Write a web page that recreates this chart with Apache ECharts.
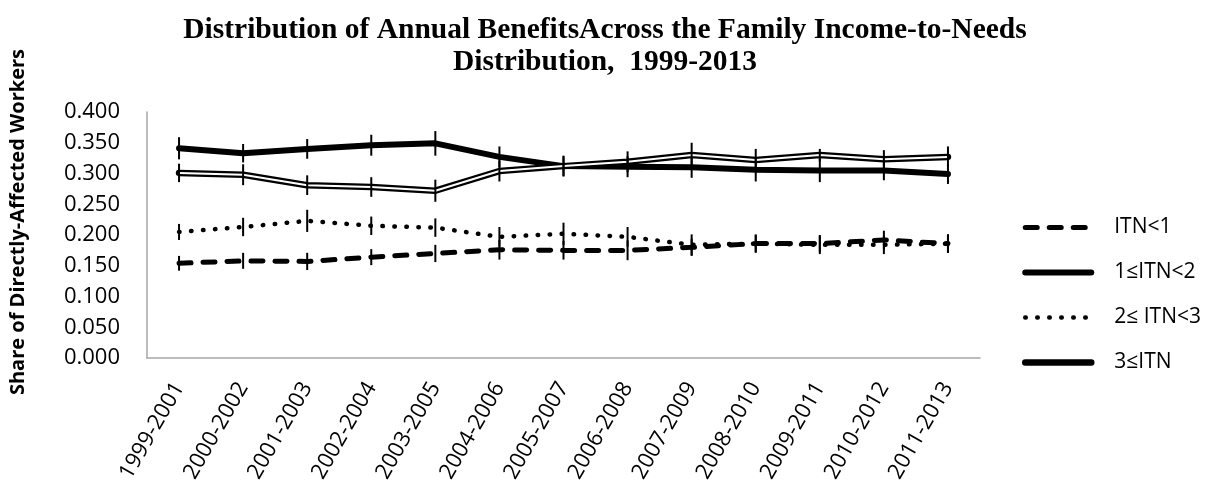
<!DOCTYPE html>
<html>
<head>
<meta charset="utf-8">
<script src="https://cdn.jsdelivr.net/npm/echarts@6/dist/echarts.min.js"></script>
<style>
  html, body { margin: 0; padding: 0; background: #fff; }
  #grafico { width: 1210px; height: 488px; }
</style>
</head>
<body>
<div id="grafico"></div>
<script>
// datos
const periodos = ['1999-2001', '2000-2002', '2001-2003', '2002-2004', '2003-2005', '2004-2006',
  '2005-2007', '2006-2008', '2007-2009', '2008-2010', '2009-2011', '2010-2012', '2011-2013'];

const itnMenor1 = [0.154, 0.158, 0.157, 0.164, 0.170, 0.176, 0.175, 0.175, 0.180, 0.186, 0.186, 0.192, 0.186];
const itn1a2 = [0.341, 0.333, 0.340, 0.346, 0.349, 0.327, 0.312, 0.311, 0.310, 0.306, 0.305, 0.305, 0.299];
const itn2a3 = [0.205, 0.213, 0.223, 0.215, 0.212, 0.197, 0.202, 0.197, 0.184, 0.186, 0.184, 0.184, 0.186];
const itn3mas = [0.301, 0.298, 0.281, 0.278, 0.272, 0.304, 0.312, 0.319, 0.330, 0.322, 0.330, 0.323, 0.327];

// medio ancho de las barras de error
const errMenor1 = [0.012, 0.013, 0.014, 0.013, 0.014, 0.016, 0.015, 0.016, 0.014, 0.015, 0.014, 0.015, 0.015];
const err1a2 = [0.018, 0.015, 0.016, 0.017, 0.020, 0.017, 0.017, 0.017, 0.017, 0.019, 0.019, 0.016, 0.016];
const err2a3 = [0.013, 0.015, 0.018, 0.015, 0.015, 0.016, 0.018, 0.016, 0.017, 0.014, 0.015, 0.015, 0.015];
const err3mas = [0.015, 0.017, 0.016, 0.016, 0.018, 0.017, 0.016, 0.017, 0.020, 0.018, 0.010, 0.015, 0.017];

const nombres = ['ITN<1', '1≤ITN<2', '2≤ ITN<3', '3≤ITN'];

// estilos de linea de cada serie
const estiloMenor1 = { color: '#000', width: 5, type: [12, 12], cap: 'round' };
const estilo1a2 = { color: '#000', width: 6, type: 'solid', cap: 'round' };
const estilo2a3 = { color: '#000', width: 4.5, type: [0.5, 11.5], cap: 'round' };
const estilo3mas = { color: '#000', width: 6.5, type: 'solid', cap: 'round' };

function barrasError(valores, errores) {
  return {
    type: 'custom',
    silent: true,
    z: 5,
    data: valores.map((v, i) => [i, v - errores[i], v + errores[i]]),
    renderItem: function (params, api) {
      const a = api.coord([api.value(0), api.value(1)]);
      const b = api.coord([api.value(0), api.value(2)]);
      return {
        type: 'line',
        shape: { x1: a[0], y1: a[1], x2: b[0], y2: b[1] },
        style: { stroke: '#000', lineWidth: 2 }
      };
    }
  };
}

function serieLinea(nombre, valores, estilo) {
  return {
    name: nombre, type: 'line', data: valores,
    symbol: 'none',
    itemStyle: { color: '#000' },
    lineStyle: estilo
  };
}

document.addEventListener('DOMContentLoaded', function () {
  const chart = echarts.init(document.getElementById('grafico'));

  chart.setOption({
    animation: false,
    title: {
      text: 'Distribution of Annual BenefitsAcross the Family Income-to-Needs\nDistribution,  1999-2013',
      left: 600,
      textAlign: 'center',
      top: 9,
      textStyle: {
        fontFamily: 'Liberation Serif',
        fontWeight: 'bold',
        fontSize: 29.5,
        lineHeight: 32,
        color: '#000'
      }
    },
    // titulo del eje y
    graphic: [{
      type: 'text',
      x: 18,
      y: 222,
      rotation: Math.PI / 2,
      style: {
        text: 'Share of Directly-Affected Workers',
        fontFamily: 'Open Sans',
        fontWeight: 'bold',
        fontSize: 20,
        fill: '#000',
        align: 'center',
        verticalAlign: 'middle'
      }
    }],
    legend: {
      data: [
        { name: nombres[0], lineStyle: estiloMenor1 },
        { name: nombres[1], lineStyle: estilo1a2 },
        { name: nombres[2], lineStyle: estilo2a3 },
        { name: nombres[3], lineStyle: estilo3mas }
      ],
      orient: 'vertical',
      left: 1017,
      top: 212,
      itemWidth: 66,
      itemHeight: 22,
      itemGap: 24,
      itemStyle: { opacity: 0 },
      textStyle: {
        fontFamily: 'Open Sans',
        fontSize: 21,
        color: '#000',
        padding: [0, 0, 0, 18]
      }
    },
    grid: { left: 147, right: 230, top: 112, bottom: 130, outerBoundsMode: 'none' },
    xAxis: {
      type: 'category',
      data: periodos,
      boundaryGap: true,
      axisLine: { lineStyle: { color: '#a6a6a6', width: 1.5 } },
      axisTick: { show: false },
      axisLabel: {
        rotate: 60,
        margin: 26,
        fontFamily: 'Open Sans',
        fontSize: 22,
        color: '#000'
      }
    },
    yAxis: {
      type: 'value',
      min: 0,
      max: 0.4,
      interval: 0.05,
      axisLine: { show: true, lineStyle: { color: '#a6a6a6', width: 1.5 } },
      axisTick: { show: false },
      splitLine: { show: false },
      axisLabel: {
        margin: 27,
        fontFamily: 'Open Sans',
        fontSize: 22,
        color: '#000',
        formatter: v => v.toFixed(3)
      }
    },
    series: [
      serieLinea(nombres[0], itnMenor1, estiloMenor1),
      serieLinea(nombres[1], itn1a2, estilo1a2),
      serieLinea(nombres[2], itn2a3, estilo2a3),
      serieLinea(nombres[3], itn3mas, estilo3mas),
      {
        // linea blanca interior (linea doble)
        type: 'line', data: itn3mas, symbol: 'none', silent: true, z: 3,
        lineStyle: { color: '#fff', width: 2 }
      },
      barrasError(itnMenor1, errMenor1),
      barrasError(itn1a2, err1a2),
      barrasError(itn2a3, err2a3),
      barrasError(itn3mas, err3mas)
    ]
  });
});
</script>
</body>
</html>
